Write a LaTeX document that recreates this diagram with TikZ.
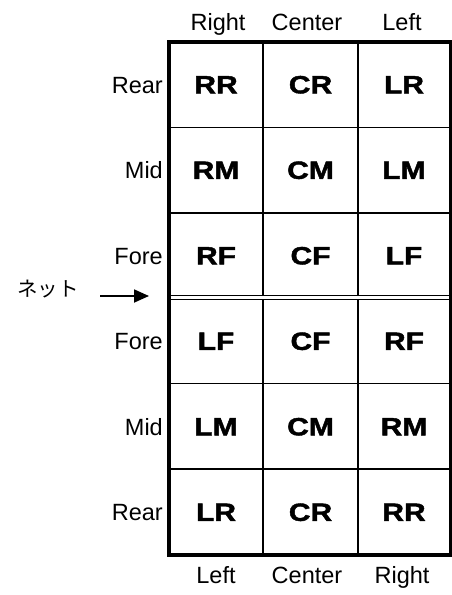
\documentclass[tikz,border=0pt]{standalone}
\usepackage{fontspec}
\setmainfont{Liberation Sans}
\newfontfamily\heavyfont{Liberation Sans}[BoldFeatures={FakeBold=1.6}]
\newfontfamily\jpfont{Noto Sans CJK JP}
\usetikzlibrary{arrows.meta}
\newcommand{\widetxt}[1]{\scalebox{1.2}[1]{#1}}
\begin{document}
\begin{tikzpicture}[x=1pt,y=-1pt,
  cell/.style={font=\heavyfont\bfseries\fontsize{25}{25}\selectfont, inner sep=0pt},
  lab/.style={font=\fontsize{23.5}{24}\selectfont, inner sep=0pt, anchor=base},
  rowlab/.style={font=\fontsize{23.5}{24}\selectfont, inner sep=0pt, anchor=base east},
  gridline/.style={line width=1.3pt},
  frameline/.style={line width=3.5pt},
  netline/.style={line width=1.2pt, double distance=3pt}]
\useasboundingbox (0,0) rectangle (452,595);
% grid
\foreach \y in {127.5,213,383.5,469} \draw[gridline] (169,\y) -- (450.5,\y);
\foreach \x in {263,358} \draw[gridline] (\x,42) -- (\x,555);
\draw[netline] (169,297.5) -- (450.5,297.5);
\draw[frameline] (169,42) rectangle (450.5,555);
% cells
\def\cx{{216,310.5,404}}
\foreach \t [count=\i] in {RR,CR,LR,RM,CM,LM,RF,CF,LF,LF,CF,RF,LM,CM,RM,LR,CR,RR}{
  \pgfmathtruncatemacro{\r}{int((\i-1)/3)}
  \pgfmathtruncatemacro{\c}{mod(\i-1,3)}
  \pgfmathsetmacro{\xx}{\cx[\c]}
  \pgfmathsetmacro{\yy}{84.75+85.5*\r}
  \node[cell] (c\i) at (\xx,\yy) {\widetxt{\t}};
}
% column labels
\node[lab] (tR) at (218,30) {Right};
\node[lab] (tC) at (307,30) {Center};
\node[lab] (tL) at (402,30) {Left};
\node[lab] (bL) at (216,583) {Left};
\node[lab] (bC) at (307,583) {Center};
\node[lab] (bR) at (402,583) {Right};
% row labels
\foreach \t [count=\i] in {Rear,Mid,Fore,Fore,Mid,Rear}{
  \pgfmathsetmacro{\yy}{84.75+85.5*(\i-1)+8.5}
  \node[rowlab] (r\i) at (163,\yy) {\t};
}
% net
\node[font=\jpfont\fontsize{20.5}{21}\selectfont, inner sep=0pt] (net) at (48,289) {ネット};
\coordinate (a0) at (100,296);
\coordinate (a1) at (149,296);
\draw[line width=1.8pt, -{Triangle[length=15pt,width=13pt]}] (a0) -- (a1);
\end{tikzpicture}
\end{document}
